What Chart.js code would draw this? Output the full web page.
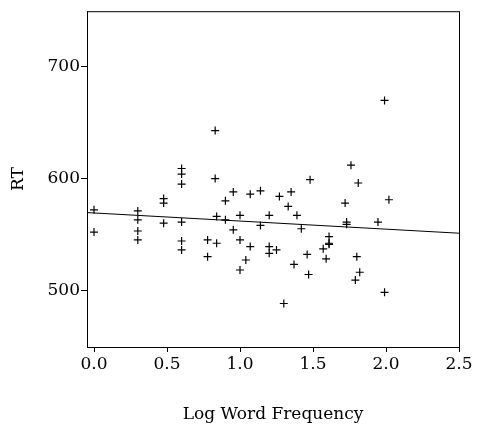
<!DOCTYPE html>
<html>
<head>
<meta charset="utf-8">
<script src="https://cdn.jsdelivr.net/npm/chart.js@4.4.0/dist/chart.umd.min.js"></script>
<style>
  html, body { margin: 0; padding: 0; background: #fff; }
</style>
</head>
<body>
<canvas id="rtChart" width="482" height="429"></canvas>
<script>
// log word frequency vs reaction time
const logFreq = [
  0.00, 0.00,
  0.30, 0.30, 0.30, 0.30,
  0.477, 0.477, 0.477,
  0.60, 0.60, 0.60, 0.60, 0.60, 0.60,
  0.778, 0.778,
  0.83, 0.83, 0.84, 0.84,
  0.90, 0.90,
  0.954, 0.954,
  1.00, 1.00, 1.00,
  1.04, 1.07, 1.07,
  1.14, 1.14,
  1.20, 1.20, 1.20,
  1.25, 1.27, 1.30,
  1.33, 1.35, 1.37, 1.39, 1.42,
  1.46, 1.47, 1.48,
  1.57, 1.59, 1.61, 1.61, 1.61,
  1.72, 1.73, 1.73, 1.76,
  1.79, 1.80, 1.81, 1.82,
  1.945, 1.99, 1.99, 2.02
];
const rt = [
  572, 552,
  571, 563, 553, 545,
  582, 578, 560,
  609, 604, 595, 561, 544, 536,
  545, 530,
  643, 600, 566, 542,
  580, 563,
  588, 554,
  567, 545, 518,
  527, 539, 586,
  589, 558,
  567, 539, 533,
  536, 584, 488,
  575, 588, 523, 567, 555,
  532, 514, 599,
  537, 528, 548, 542, 541,
  578, 561, 559, 612,
  509, 530, 596, 516,
  561, 670, 498, 581
];

// fitted line ends
const fitX = [-0.048, 2.5];
const fitY = [569.5, 551];

// axis ticks
const xTicks = [0, 0.5, 1.0, 1.5, 2.0, 2.5];
const yTicks = [500, 600, 700];

const serif = '"DejaVu Serif", "Liberation Serif", serif';

// plot frame around the chart area
const boxPlugin = {
  id: 'box',
  afterDraw(chart) {
    const { ctx, chartArea: a } = chart;
    ctx.save();
    ctx.strokeStyle = '#000';
    ctx.lineWidth = 1;
    ctx.strokeRect(a.left + 0.5, a.top + 0.5, a.right - a.left, a.bottom - a.top);
    ctx.restore();
  }
};

const ctx = document.getElementById('rtChart').getContext('2d');

new Chart(ctx, {
  type: 'scatter',
  data: {
    datasets: [
      {
        data: logFreq.map((x, i) => ({ x: x, y: rt[i] })),
        pointStyle: 'cross',
        pointRadius: 4,
        pointBorderWidth: 1.2,
        borderColor: '#000',
        backgroundColor: '#000',
        showLine: false,
      },
      {
        type: 'line',
        data: fitX.map((x, i) => ({ x: x, y: fitY[i] })),
        borderColor: '#000',
        borderWidth: 1,
        pointRadius: 0,
        fill: false,
      },
    ],
  },
  options: {
    responsive: false,
    animation: false,
    layout: { padding: { left: 0, right: 23, top: 11, bottom: 0 } },
    plugins: {
      legend: { display: false },
      tooltip: { enabled: false },
    },
    scales: {
      x: {
        type: 'linear',
        min: -0.048,
        max: 2.5,
        afterBuildTicks: (axis) => { axis.ticks = xTicks.map((v) => ({ value: v })); },
        afterFit: (axis) => { axis.height = 82; },
        grid: { drawOnChartArea: false, drawTicks: true, tickLength: 5, color: '#000' },
        border: { display: true, color: '#000' },
        ticks: {
          color: '#000',
          padding: 2,
          maxRotation: 0,
          font: { family: serif, size: 17 },
          callback: (v) => Number(v).toFixed(1),
        },
        title: {
          display: true,
          text: 'Log Word Frequency',
          color: '#000',
          font: { family: serif, size: 17 },
          padding: { top: 0, bottom: 4 },
        },
      },
      y: {
        min: 449,
        max: 750,
        afterBuildTicks: (axis) => { axis.ticks = yTicks.map((v) => ({ value: v })); },
        afterFit: (axis) => { axis.width = 87; },
        grid: { drawOnChartArea: false, drawTicks: true, tickLength: 6, color: '#000' },
        border: { display: true, color: '#000' },
        ticks: {
          color: '#000',
          padding: 1,
          font: { family: serif, size: 17 },
        },
        title: {
          display: true,
          text: 'RT',
          color: '#000',
          font: { family: serif, size: 17 },
          padding: { top: 8, bottom: 0 },
        },
      },
    },
  },
  plugins: [boxPlugin],
});
</script>
</body>
</html>
